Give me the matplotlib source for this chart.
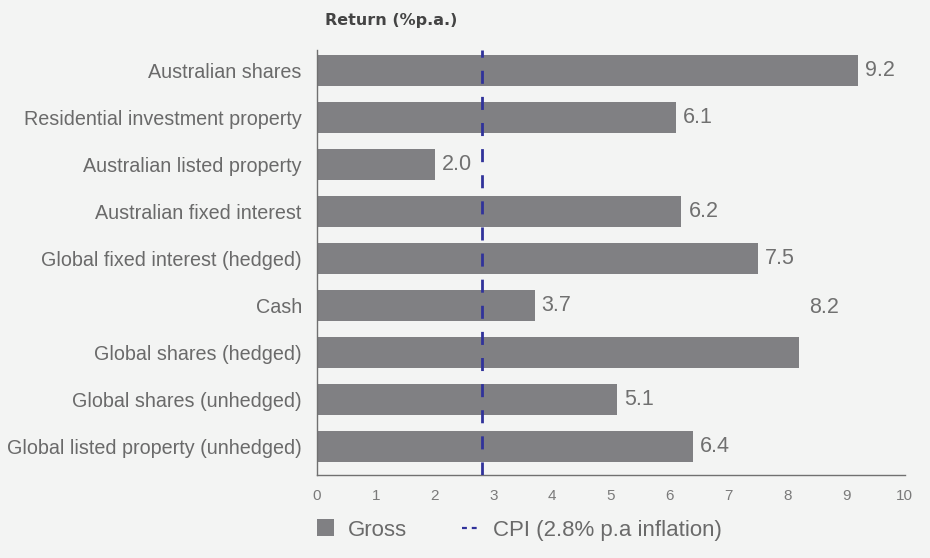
import numpy as np
import matplotlib.pyplot as plt
from matplotlib.lines import Line2D
from matplotlib.patches import Patch

plt.rcParams['font.family'] = ['Liberation Sans', 'DejaVu Sans']

# Data
categories = ['Australian shares', 'Residential investment property', 'Australian listed property',
              'Australian fixed interest', 'Global fixed interest (hedged)', 'Cash',
              'Global shares (hedged)', 'Global shares (unhedged)', 'Global listed property (unhedged)']
gross = [9.2, 6.1, 2.0, 6.2, 7.5, 3.7, 8.2, 5.1, 6.4]
cpi = 2.8
x_ticks = list(range(0, 11))

bar_color = '#808083'
line_color = '#30329a'
text_color = '#6a6a6a'
bg = '#f3f4f3'

fig = plt.figure(figsize=(9.3, 5.58), dpi=100, facecolor=bg)
ax = fig.add_axes([0.3409, 0.1487, 0.632, 0.7616], facecolor=bg)

y = np.arange(len(categories))
ax.barh(y, gross, height=0.66, color=bar_color, zorder=2)
ax.axvline(cpi, color=line_color, linestyle=(0, (4.7, 4.7)), linewidth=2, zorder=3)

for i, v in enumerate(gross):
    # in the original the 'Global shares (hedged)' value floats above its bar
    if categories[i] == 'Global shares (hedged)':
        ax.text(v + 0.18, i - 0.96, f'{v:.1f}', va='center', ha='left',
                fontsize=15.5, color='#707070')
    else:
        ax.text(v + 0.12, i, f'{v:.1f}', va='center', ha='left',
                fontsize=15.5, color='#707070')

ax.set_xlim(0, 10)
ax.set_ylim(len(categories) - 1 + 0.6, -0.43)
ax.set_xticks(x_ticks)
ax.set_yticks(y)
ax.set_yticklabels(categories, fontsize=14.2, color=text_color)
ax.tick_params(axis='x', length=0, pad=10, labelsize=11, labelcolor='#7a7a7a')
ax.tick_params(axis='y', length=0, pad=11)

for s in ['top', 'right']:
    ax.spines[s].set_visible(False)
for s in ['left', 'bottom']:
    ax.spines[s].set_color('#707070')
    ax.spines[s].set_linewidth(1)

fig.text(325 / 930, 1 - 20 / 558, 'Return (%p.a.)', fontsize=11.5, fontweight='bold',
         family='DejaVu Sans', color='#444444', ha='left', va='center')

handles = [Patch(facecolor=bar_color, edgecolor='none'),
           Line2D([0], [0], color=line_color, linestyle=(0, (2.2, 2.2)), linewidth=1.6)]
leg = fig.legend(handles, ['Gross', 'CPI (2.8% p.a inflation)'], loc='center left',
                 bbox_to_anchor=(317 / 930, 1 - 530 / 558), ncol=2, frameon=False, fontsize=16,
                 handlelength=0.77, handleheight=0.77, columnspacing=2.5, handletextpad=0.6,
                 borderpad=0, borderaxespad=0)
for t in leg.get_texts():
    t.set_color(text_color)

fig.savefig('out.png', dpi=100, facecolor=bg)
